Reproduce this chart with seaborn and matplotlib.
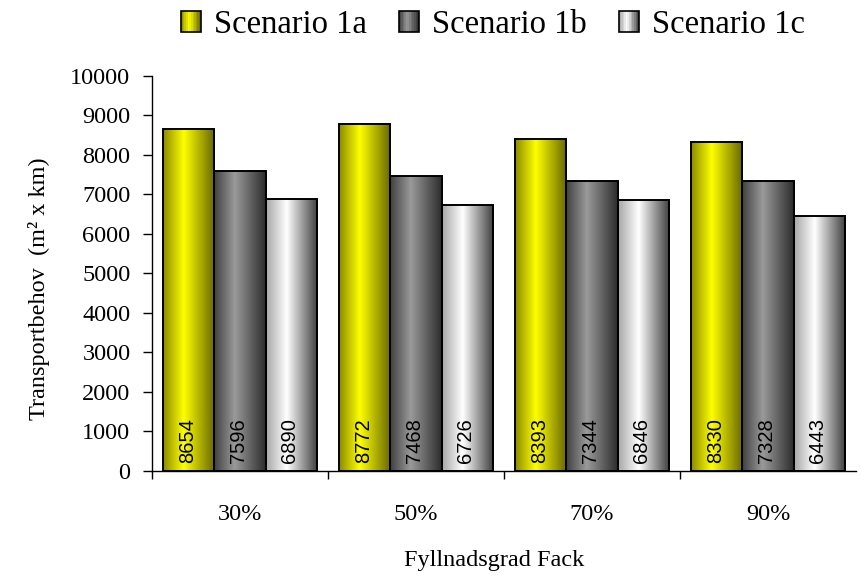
import numpy as np
import pandas as pd
import matplotlib
matplotlib.use("Agg")
import matplotlib.pyplot as plt
import seaborn as sns
from matplotlib.legend_handler import HandlerBase
from matplotlib.patches import Rectangle
from matplotlib.colors import LinearSegmentedColormap

# ---- data ----
categories = ["30%", "50%", "70%", "90%"]
series_names = ["Scenario 1a", "Scenario 1b", "Scenario 1c"]
scenario_1a = [8654, 8772, 8393, 8330]
scenario_1b = [7596, 7468, 7344, 7328]
scenario_1c = [6890, 6726, 6846, 6443]
y_ticks = [0, 1000, 2000, 3000, 4000, 5000, 6000, 7000, 8000, 9000, 10000]

df = pd.DataFrame({
    "Fyllnadsgrad": categories * 3,
    "Scenario": np.repeat(series_names, len(categories)),
    "Transport": scenario_1a + scenario_1b + scenario_1c,
})

# horizontal shading stops giving each bar a cylinder look
shades = {
    "Scenario 1a": [(0.0, "#8a8a00"), (0.4, "#ffff00"), (1.0, "#666600")],
    "Scenario 1b": [(0.0, "#404040"), (0.4, "#9a9a9a"), (1.0, "#2c2c2c")],
    "Scenario 1c": [(0.0, "#a6a6a6"), (0.4, "#ffffff"), (1.0, "#3c3c3c")],
}
cmaps = {k: LinearSegmentedColormap.from_list(k.replace(" ", "_"), v) for k, v in shades.items()}
peak_colors = ["#ffff00", "#9a9a9a", "#ffffff"]

sns.set_theme(style="white")
plt.rcParams["font.family"] = ["Liberation Serif", "DejaVu Serif"]
plt.rcParams.update({
    "text.color": "black",
    "axes.labelcolor": "black",
    "xtick.color": "black",
    "ytick.color": "black",
})

fig = plt.figure(figsize=(8.62, 5.76), dpi=100)
ax = fig.add_axes([152 / 862, 105 / 576, 704 / 862, 395.3 / 576])

sns.barplot(
    data=df, x="Fyllnadsgrad", y="Transport", hue="Scenario",
    order=categories, hue_order=series_names, palette=peak_colors,
    saturation=1, width=0.875, edgecolor="black", linewidth=1.4,
    errorbar=None, legend=False, ax=ax,
)

# replace flat fills by shaded images clipped to the bars
grad = np.linspace(0, 1, 256).reshape(1, -1)
for name, cont in zip(series_names, ax.containers):
    for bar in cont:
        x0, w, h = bar.get_x(), bar.get_width(), bar.get_height()
        im = ax.imshow(grad, cmap=cmaps[name], extent=[x0, x0 + w, 0, h],
                       aspect="auto", origin="lower", interpolation="bilinear",
                       zorder=2)
        im.set_clip_path(bar)
        bar.set_facecolor("none")
        bar.set_zorder(3)
        ax.annotate(f"{int(round(h))}", xy=(x0 + w / 2, 0), xytext=(-1, 6),
                    textcoords="offset points", rotation=90, ha="center",
                    va="bottom", fontsize=14.5, family="Liberation Sans",
                    color="black", zorder=4)

ax.set_xlim(-0.5, 3.5)
ax.set_ylim(0, 10000)
ax.set_yticks(y_ticks)
ax.set_yticklabels([str(t) for t in y_ticks])
ax.tick_params(axis="y", left=True, length=6.5, width=1, color="black",
               labelcolor="black", pad=9, labelsize=17.5, direction="out")

ax.set_xticks(range(len(categories)))
ax.set_xticklabels(categories)
ax.tick_params(axis="x", which="major", bottom=True, length=0, pad=24,
               labelsize=17.5, labelcolor="black")
ax.set_xticks([-0.5, 0.5, 1.5, 2.5], minor=True)
ax.tick_params(axis="x", which="minor", bottom=True, length=6, width=1,
               color="black", direction="out")

for side in ["top", "right"]:
    ax.spines[side].set_visible(False)
for side in ["left", "bottom"]:
    ax.spines[side].set_color("black")
    ax.spines[side].set_linewidth(1)

ax.set_xlabel("Fyllnadsgrad Fack", fontsize=17.5, color="black")
ax.xaxis.set_label_coords(0.486, -0.2)
ax.set_ylabel("Transportbehov  (m² x km)", fontsize=17.5, color="black")
ax.yaxis.set_label_coords(-0.145, 0.46)


class ShadedSquare(HandlerBase):
    def __init__(self, cmap, strips=12):
        super().__init__()
        self.cmap = cmap
        self.strips = strips

    def create_artists(self, legend, orig_handle, xdescent, ydescent,
                       width, height, fontsize, trans):
        arts = []
        sw = width / self.strips
        for i in range(self.strips):
            c = self.cmap((i + 0.5) / self.strips)
            arts.append(Rectangle((-xdescent + i * sw, -ydescent), sw * 1.02, height,
                                  facecolor=c, edgecolor="none", transform=trans))
        arts.append(Rectangle((-xdescent, -ydescent), width, height,
                              facecolor="none", edgecolor="black", lw=1.2,
                              transform=trans))
        return arts


handles = [Rectangle((0, 0), 1, 1) for _ in series_names]
hmap = {h: ShadedSquare(cmaps[n]) for h, n in zip(handles, series_names)}
leg = fig.legend(handles, series_names, handler_map=hmap, loc="center",
                 bbox_to_anchor=(493 / 862, 1 - 25 / 576), ncol=3, frameon=False,
                 fontsize=23.5, handlelength=0.6, handleheight=0.6,
                 handletextpad=0.4, columnspacing=1.0)
for t in leg.get_texts():
    t.set_color("black")

fig.savefig("out.png", dpi=100, facecolor="white")
